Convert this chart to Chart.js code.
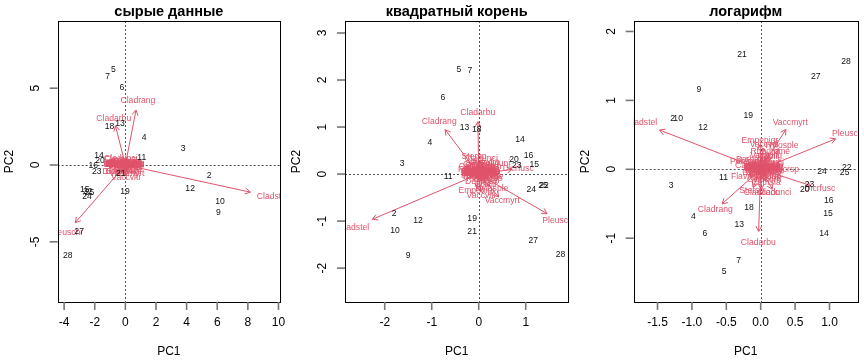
<!DOCTYPE html>
<html>
<head>
<meta charset="utf-8">
<script src="https://cdn.jsdelivr.net/npm/chart.js@4"></script>
<style>
  body { margin: 0; background: #fff; }
  .panel { position: absolute; top: 0; width: 288px; height: 360px; }
</style>
</head>
<body>
<div class="panel" style="left:0"><canvas id="raw" width="288" height="360"></canvas></div>
<div class="panel" style="left:288px"><canvas id="sqrt" width="288" height="360"></canvas></div>
<div class="panel" style="left:576px"><canvas id="log" width="288" height="360"></canvas></div>
<script>
// Участки (строки varespec)
const siteLabels = ['18','15','24','27','23','19','22','16','28','13','14','20','25','7','5','6','3','4','2','9','12','10','11','21'];

// Виды
const speciesNames = ['Callvulg','Empenigr','Rhodtome','Vaccmyrt','Vaccviti','Pinusylv','Descflex','Betupube','Vacculig','Diphcomp',
  'Dicrsp','Dicrfusc','Dicrpoly','Hylosple','Pleuschr','Polypili','Polyjuni','Polycomm','Pohlnuta','Ptilcili',
  'Barbhatc','Cladarbu','Cladrang','Cladstel','Cladunci','Cladcocc','Cladcorn','Cladgrac','Cladfimb','Cladcris',
  'Cladchlo','Cladbotr','Cladamau','Cladsp','Cetreric','Cetrisla','Flavniva','Nepharct','Stersp','Peltapht',
  'Icmaeric','Cladcerv','Claddefo','Cladphyl'];

// --- сырые данные ---
const rawSitePC1 = [-1.04,-2.65,-2.50,-3.02,-1.87,-0.02,-2.45,-2.09,-3.76,-0.35,-1.72,-1.65,-2.35,-1.15,-0.78,-0.22,3.77,1.22,5.47,6.08,4.23,6.18,1.07,-0.30];
const rawSitePC2 = [2.52,-1.62,-2.08,-4.36,-0.44,-1.71,-1.72,-0.02,-5.88,2.71,0.63,0.28,-1.80,5.73,6.23,5.06,1.04,1.76,-0.72,-3.10,-1.52,-2.41,0.46,-0.54];
const rawSpecPC1 = [0.25,-0.10,-0.05,0.10,0.03,-0.08,-0.10,-0.12,-0.06,-0.04,
  0.05,-0.48,-0.10,0.00,-3.85,-0.12,-0.05,-0.10,-0.08,-0.02,
  -0.10,-0.76,0.82,9.60,-0.30,-0.15,-0.05,-0.20,-0.12,-0.18,
  -0.10,-0.14,-0.15,-0.22,0.00,0.15,-0.35,-0.10,0.20,-0.12,
  -0.10,-0.14,-0.05,-0.12];
const rawSpecPC2 = [0.10,-0.45,0.02,-0.55,-0.83,0.01,0.00,0.01,-0.02,0.04,
  -0.35,-0.44,-0.01,-0.30,-4.42,0.02,-0.05,0.00,0.05,-0.10,
  0.03,3.00,4.21,-2.08,0.40,0.10,0.15,0.12,0.08,0.10,
  0.05,0.02,0.04,0.05,0.20,0.25,0.35,0.00,0.20,0.01,
  0.01,0.02,0.10,0.02];
const rawTicksX = [-4,-2,0,2,4,6,8,10];
const rawTicksY = [-5,0,5];

// --- квадратный корень ---
const sqrtSitePC1 = [-0.04,1.18,1.12,1.16,0.81,-0.14,1.39,1.06,1.74,-0.30,0.88,0.75,1.37,-0.19,-0.42,-0.76,-1.63,-1.04,-1.80,-1.50,-1.29,-1.78,-0.65,-0.14];
const sqrtSitePC2 = [0.94,0.21,-0.32,-1.42,0.18,-0.94,-0.24,0.40,-1.71,0.98,0.74,0.30,-0.25,2.20,2.23,1.62,0.22,0.67,-0.84,-1.73,-1.00,-1.21,-0.06,-1.23];
const sqrtSpecPC1 = [-0.10,-0.04,0.10,0.50,0.05,0.08,0.06,0.02,0.10,0.05,
  0.24,0.84,0.12,0.28,1.71,0.03,0.35,0.05,0.08,0.15,
  0.05,-0.02,-0.84,-2.66,0.05,0.02,0.12,0.08,0.04,0.06,
  0.10,0.02,0.03,-0.05,0.05,0.02,-0.10,0.03,-0.10,0.03,
  0.02,0.01,0.08,0.02];
const sqrtSpecPC2 = [0.15,-0.36,-0.05,-0.57,-0.45,-0.10,-0.15,0.02,0.25,0.05,
  -0.10,0.12,-0.02,-0.30,-0.99,0.04,0.22,-0.03,0.12,-0.22,
  0.08,1.31,1.11,-1.13,0.32,0.10,0.15,0.10,0.05,0.08,
  0.06,0.02,0.05,0.20,0.12,0.18,0.10,-0.05,0.37,0.01,
  0.02,0.03,0.03,0.01];
const sqrtTicksX = [-2,-1,0,1];
const sqrtTicksY = [-2,-1,0,1,2,3];

// --- логарифм ---
const logSitePC1 = [-0.17,0.98,0.89,0.80,0.71,-0.18,1.25,0.99,1.24,-0.31,0.92,0.64,1.22,-0.32,-0.53,-0.81,-1.30,-0.98,-1.28,-0.90,-0.84,-1.20,-0.54,-0.27];
const logSitePC2 = [-0.55,-0.65,-0.04,1.35,-0.22,0.78,0.02,-0.45,1.56,-0.81,-0.94,-0.29,-0.05,-1.33,-1.48,-0.94,-0.23,-0.68,0.73,1.15,0.61,0.74,-0.12,1.67];
const logSpecPC1 = [-0.15,-0.01,0.14,0.43,0.05,0.10,0.05,0.02,0.08,0.05,
  0.38,0.86,0.10,0.31,1.28,0.02,0.12,0.05,-0.20,0.11,
  -0.11,-0.035,-0.66,-1.73,0.20,0.01,0.05,0.08,0.03,0.06,
  0.04,0.02,0.03,0.10,-0.05,0.08,-0.20,0.01,-0.13,0.04,
  0.02,0.01,0.06,0.02];
const logSpecPC2 = [0.05,0.42,0.26,0.68,0.36,0.05,0.10,0.03,0.20,0.04,
  -0.01,-0.28,0.02,0.35,0.52,0.01,0.10,-0.02,0.11,0.18,
  0.14,-1.06,-0.59,0.67,-0.34,-0.34,-0.15,-0.08,-0.05,-0.12,
  0.06,-0.02,0.02,-0.10,-0.05,-0.20,-0.10,0.02,-0.31,0.03,
  0.00,0.01,-0.04,0.03];
const logTicksX = [-1.5,-1.0,-0.5,0.0,0.5,1.0];
const logTicksY = [-1,0,1,2];

const SPEC_COL = '#DF536B';
const FONT = '"Liberation Sans", Arial, sans-serif';
const ARROW_LEN = 0.85;

function drawArrow(ctx, x0, y0, x1, y1) {
    ctx.beginPath();
    ctx.moveTo(x0, y0);
    ctx.lineTo(x1, y1);
    ctx.stroke();
    const a = Math.atan2(y1 - y0, x1 - x0), L = 6, th = Math.PI / 6;
    ctx.beginPath();
    ctx.moveTo(x1 - L * Math.cos(a - th), y1 - L * Math.sin(a - th));
    ctx.lineTo(x1, y1);
    ctx.lineTo(x1 - L * Math.cos(a + th), y1 - L * Math.sin(a + th));
    ctx.stroke();
}

// Рисует биплот в стиле vegan::biplot через шкалы Chart.js
const biplotPlugin = {
    id: 'biplot',
    afterDatasetsDraw(chart, args, opts) {
        const { ctx, chartArea: ca, scales: { x, y } } = chart;
        const sites = chart.data.datasets[0];
        const spec = chart.data.datasets[1];
        const x0 = x.getPixelForValue(0), y0 = y.getPixelForValue(0);

        ctx.save();
        ctx.beginPath();
        ctx.rect(ca.left, ca.top, ca.right - ca.left, ca.bottom - ca.top);
        ctx.clip();

        // нулевые линии
        ctx.strokeStyle = '#555';
        ctx.lineWidth = 1;
        ctx.setLineDash([2, 2]);
        ctx.beginPath();
        ctx.moveTo(ca.left, Math.round(y0) + 0.5); ctx.lineTo(ca.right, Math.round(y0) + 0.5);
        ctx.moveTo(Math.round(x0) + 0.5, ca.top); ctx.lineTo(Math.round(x0) + 0.5, ca.bottom);
        ctx.stroke();
        ctx.setLineDash([]);

        // стрелки и подписи видов
        ctx.strokeStyle = SPEC_COL;
        ctx.lineWidth = 1;
        spec.data.forEach(p => {
            drawArrow(ctx, x0, y0, x.getPixelForValue(p.x * ARROW_LEN), y.getPixelForValue(p.y * ARROW_LEN));
        });
        ctx.font = '8.6px ' + FONT;
        ctx.textAlign = 'center';
        ctx.textBaseline = 'middle';
        ctx.fillStyle = SPEC_COL;
        spec.data.forEach(p => {
            ctx.fillText(p.label, x.getPixelForValue(p.x), y.getPixelForValue(p.y));
        });

        // участки
        ctx.fillStyle = '#111';
        sites.data.forEach(p => {
            ctx.fillText(p.label, x.getPixelForValue(p.x), y.getPixelForValue(p.y));
        });
        ctx.restore();

        // рамка
        ctx.save();
        ctx.strokeStyle = '#000';
        ctx.lineWidth = 1;
        ctx.strokeRect(Math.round(ca.left) + 0.5, Math.round(ca.top) + 0.5,
            Math.round(ca.right - ca.left), Math.round(ca.bottom - ca.top));

        // оси
        ctx.strokeStyle = '#777';
        ctx.lineWidth = 1.6;
        ctx.fillStyle = '#000';
        ctx.font = '12px ' + FONT;
        ctx.textAlign = 'center';
        ctx.textBaseline = 'middle';
        opts.ticksX.forEach(v => {
            const px = x.getPixelForValue(v);
            ctx.beginPath(); ctx.moveTo(px, ca.bottom); ctx.lineTo(px, ca.bottom + 8); ctx.stroke();
            ctx.fillText(opts.fmt(v), px, ca.bottom + 21);
        });
        opts.ticksY.forEach(v => {
            const py = y.getPixelForValue(v);
            ctx.beginPath(); ctx.moveTo(ca.left, py); ctx.lineTo(ca.left - 8, py); ctx.stroke();
            ctx.save();
            ctx.translate(ca.left - 22.5, py);
            ctx.rotate(-Math.PI / 2);
            ctx.fillText(String(v), 0, 0);
            ctx.restore();
        });

        const cx = (ca.left + ca.right) / 2, cy = (ca.top + ca.bottom) / 2;
        ctx.fillText('PC1', cx, ca.bottom + 50);
        ctx.save();
        ctx.translate(ca.left - 48.5, cy);
        ctx.rotate(-Math.PI / 2);
        ctx.fillText('PC2', 0, 0);
        ctx.restore();

        ctx.font = 'bold 14.5px ' + FONT;
        ctx.textBaseline = 'alphabetic';
        ctx.fillText(opts.title, cx, 16);
        ctx.restore();
    }
};

function makeBiplot(id, title, sitePC1, sitePC2, specPC1, specPC2, ticksX, ticksY, xr, yr, box, fmt) {
    const ctx = document.getElementById(id).getContext('2d');
    return new Chart(ctx, {
        type: 'scatter',
        data: {
            datasets: [{
                label: 'участки',
                data: siteLabels.map((s, i) => ({ x: sitePC1[i], y: sitePC2[i], label: s })),
                pointRadius: 0
            }, {
                label: 'виды',
                data: speciesNames.map((s, i) => ({ x: specPC1[i], y: specPC2[i], label: s })),
                pointRadius: 0
            }]
        },
        options: {
            responsive: false,
            animation: false,
            devicePixelRatio: 1,
            layout: { padding: { left: box[0], right: 288 - box[1], top: 21, bottom: 58 } },
            plugins: {
                legend: { display: false },
                tooltip: { enabled: false },
                biplot: { title, ticksX, ticksY, fmt }
            },
            scales: {
                x: { type: 'linear', min: xr[0], max: xr[1], display: false },
                y: { type: 'linear', min: yr[0], max: yr[1], display: false }
            }
        },
        plugins: [biplotPlugin]
    });
}

makeBiplot('raw', 'сырые данные', rawSitePC1, rawSitePC2, rawSpecPC1, rawSpecPC2,
    rawTicksX, rawTicksY, [-4.42, 10.1], [-8.92, 9.375], [57.7, 280], v => String(v));
makeBiplot('sqrt', 'квадратный корень', sqrtSitePC1, sqrtSitePC2, sqrtSpecPC1, sqrtSpecPC2,
    sqrtTicksX, sqrtTicksY, [-2.845, 1.906], [-2.72, 3.255], [57, 280.3], v => String(v));
makeBiplot('log', 'логарифм', logSitePC1, logSitePC2, logSpecPC1, logSpecPC2,
    logTicksX, logTicksY, [-1.846, 1.41], [-1.926, 2.152], [57.7, 281.7], v => v.toFixed(1));
</script>
</body>
</html>
